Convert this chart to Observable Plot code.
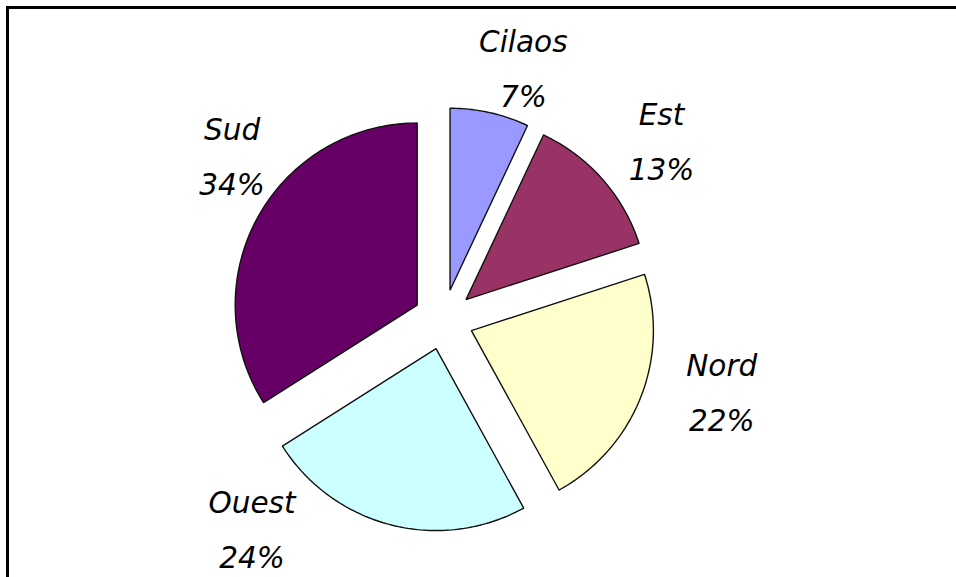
<!DOCTYPE html>
<html>
<head>
<meta charset="utf-8">
<script src="https://cdn.jsdelivr.net/npm/d3@7"></script>
<script src="https://cdn.jsdelivr.net/npm/@observablehq/plot@0.6"></script>
<style>
  html, body { margin: 0; padding: 0; background: #fff; overflow: hidden; }
  #wrap { position: relative; width: 956px; height: 577px; }
  #border { position: absolute; left: 6px; top: 6px; width: 960px; height: 580px;
            border-top: 3px solid #000; border-left: 3px solid #000; pointer-events: none; }
</style>
</head>
<body>
<div id="wrap"><div id="chart"></div><div id="border"></div></div>
<script>
// ---- data ----
const categories = ["Cilaos", "Est", "Nord", "Ouest", "Sud"];
const values = [7, 13, 22, 24, 34];
const colors = ["#9999ff", "#993366", "#ffffcc", "#ccffff", "#660066"];

// ---- layout (pie in unit-radius coordinates) ----
const W = 956, H = 577;
const pxPerUnit = 182;           // radius in pixels
const cx = 443, cy = 319;        // pie centre in pixels
const explode = 30 / pxPerUnit;  // slice offset
const labelAngleOffset = [5, 2, -7, 28, 9];        // degrees from mid-angle
const labelRadius = [1.45, 1.55, 1.58, 1.56, 1.47];

const total = d3.sum(values);
let acc = 0;
const slices = categories.map((name, i) => {
  const a0 = acc / total * 2 * Math.PI;
  acc += values[i];
  const a1 = acc / total * 2 * Math.PI;
  const mid = (a0 + a1) / 2;
  const ox = explode * Math.sin(mid), oy = explode * Math.cos(mid);
  const pts = [{x: ox, y: oy}];
  const n = Math.max(8, Math.ceil((a1 - a0) / (Math.PI / 180)));
  for (let k = 0; k <= n; k++) {
    const a = a0 + (a1 - a0) * k / n;
    pts.push({x: ox + Math.sin(a), y: oy + Math.cos(a)});
  }
  const la = mid + labelAngleOffset[i] * Math.PI / 180;
  const label = {
    x: labelRadius[i] * Math.sin(la),
    y: labelRadius[i] * Math.cos(la),
    text: `${name}\n${Math.round(values[i] / total * 100)}%`
  };
  return {name, color: colors[i], pts, label};
});

const chart = Plot.plot({
  width: W, height: H,
  margin: 0,
  style: {background: "transparent"},
  x: {domain: [-cx / pxPerUnit, (W - cx) / pxPerUnit], axis: null},
  y: {domain: [-(H - cy) / pxPerUnit, cy / pxPerUnit], axis: null},
  marks: [
    ...slices.map(s => Plot.line(s.pts, {
      x: "x", y: "y", curve: "linear-closed",
      fill: s.color, stroke: "#111", strokeWidth: 1.4, strokeLinejoin: "miter"
    })),
    Plot.text(slices.map(s => s.label), {
      x: "x", y: "y", text: "text", dy: -6,
      fontFamily: "DejaVu Sans", fontStyle: "italic", fontSize: 29.5,
      lineHeight: 1.87, fill: "#000", textAnchor: "middle"
    })
  ]
});
document.getElementById("chart").appendChild(chart);
</script>
</body>
</html>
